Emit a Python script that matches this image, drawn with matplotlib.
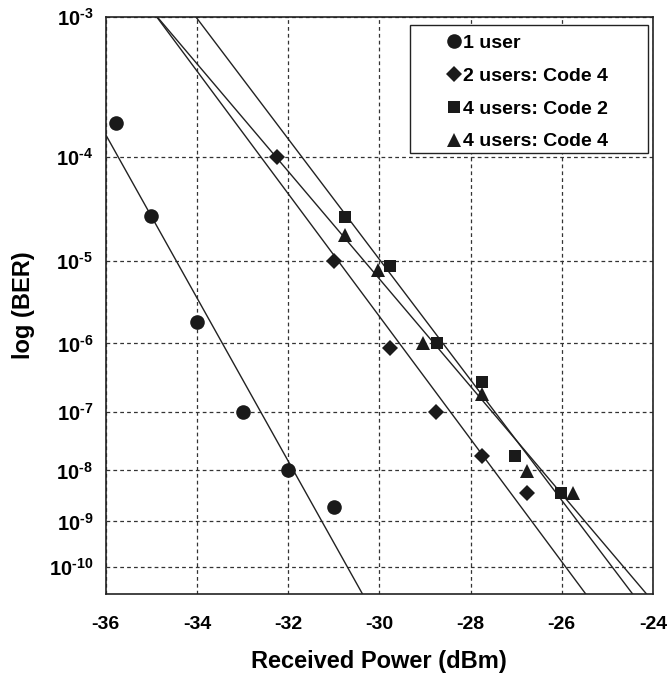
import numpy as np
import matplotlib
matplotlib.use("Agg")
import matplotlib.pyplot as plt
from matplotlib.lines import Line2D
from matplotlib.patches import Rectangle

plt.rcParams['font.family'] = ['Liberation Sans', 'DejaVu Sans']
plt.rcParams['font.weight'] = 'bold'
plt.rcParams['mathtext.fontset'] = 'custom'
plt.rcParams['mathtext.rm'] = 'Liberation Sans:bold'
plt.rcParams['mathtext.bf'] = 'Liberation Sans:bold'
plt.rcParams['mathtext.it'] = 'Liberation Sans:bold'

# ---- data ----
x_1user = [-35.77, -35.0, -34.0, -33.0, -32.0, -31.0]
ber_1user = [1.9e-4, 2.9e-5, 1.9e-6, 1.0e-7, 1.0e-8, 1.95e-9]

x_2u_c4 = [-32.25, -31.0, -29.76, -28.76, -27.75, -26.76]
ber_2u_c4 = [1.0e-4, 1.0e-5, 8.6e-7, 1.0e-7, 1.85e-8, 3.8e-9]

x_4u_c2 = [-30.75, -29.76, -28.74, -27.75, -27.02, -26.02]
ber_4u_c2 = [2.85e-5, 8.8e-6, 1.0e-6, 2.9e-7, 1.85e-8, 3.8e-9]

x_4u_c4 = [-30.75, -30.02, -29.04, -27.75, -26.76, -25.76]
ber_4u_c4 = [1.87e-5, 7.9e-6, 1.0e-6, 1.9e-7, 9.6e-9, 3.8e-9]

labels = ["1 user", "2 users: Code 4", "4 users: Code 2", "4 users: Code 4"]
xticks = [-36, -34, -32, -30, -28, -26, -24]
yexp = [3, 4, 5, 6, 7, 8, 9, 10]

# ---- BER scale: linear in log10(-log10(BER) - c) ----
C = 0.6


def fwd(y):
    y = np.asarray(y, dtype=float)
    with np.errstate(all='ignore'):
        n = -np.log10(np.clip(y, 1e-300, 0.2))
        return -np.log10(np.clip(n - C, 1e-9, None))


def inv(f):
    f = np.asarray(f, dtype=float)
    with np.errstate(all='ignore'):
        return 10.0 ** (-(10.0 ** (-f) + C))


W, H = 667, 674
fig = plt.figure(figsize=(W / 100, H / 100), dpi=100)
ax = fig.add_axes([105.7 / W, 1 - 594 / H, (653 - 105.7) / W, (594 - 16.7) / H])
ax.set_yscale('function', functions=(fwd, inv))

xlim = (-36, -24)
ylim = (2.2e-11, 1e-3)
ax.set_xlim(*xlim)
ax.set_ylim(*ylim)

series = [
    (x_1user, ber_1user, 'o', 10.5),
    (x_2u_c4, ber_2u_c4, 'D', 8.0),
    (x_4u_c2, ber_4u_c2, 's', 9.0),
    (x_4u_c4, ber_4u_c4, '^', 10.5),
]
mk_color = '#1a1a1a'
handles = []
for (xs, ys, m, ms), lab in zip(series, labels):
    xs = np.array(xs)
    fs = fwd(np.array(ys))
    k, b = np.polyfit(xs, fs, 1)
    ftop, fbot = fwd(ylim[1]), fwd(ylim[0])
    xa = max(xlim[0], (ftop - b) / k)
    xb = min(xlim[1], (fbot - b) / k)
    xl = np.array([xa, xb])
    ax.plot(xl, inv(k * xl + b), color='#222222', lw=1.0, zorder=3)
    ax.plot(xs, ys, linestyle='none', marker=m, ms=ms, color=mk_color,
            markeredgewidth=0, zorder=4)
    handles.append(Line2D([], [], linestyle='none', marker=m, ms=ms,
                          color=mk_color, markeredgewidth=0, label=lab))

ax.set_xticks(xticks)
ax.set_xticklabels([str(t) for t in xticks], fontsize=14, fontweight='bold')
ax.set_yticks([10.0 ** -e for e in yexp])
ax.set_yticklabels([r'$\mathbf{10^{\text{-}%d}}$' % e for e in yexp], fontsize=14.5)
ax.minorticks_off()
ax.tick_params(axis='both', length=0)
ax.tick_params(axis='x', pad=16)
ax.tick_params(axis='y', pad=9)

ax.grid(True, color='#333333', linestyle=(0, (3, 2.5)), linewidth=0.9)
ax.set_axisbelow(True)
for s in ax.spines.values():
    s.set_linewidth(1.2)
    s.set_color('#222222')

ax.set_xlabel('Received Power (dBm)', fontsize=17, fontweight='bold', labelpad=12)
ax.set_ylabel('log (BER)', fontsize=17, fontweight='bold', labelpad=10)

# legend box (wider than its content, content centred)
bx0, bx1 = (410 - 105.7) / 547.3, (648 - 105.7) / 547.3
by1, by0 = 1 - (25 - 16.7) / 577.3, 1 - (153 - 16.7) / 577.3
ax.add_patch(Rectangle((bx0, by0), bx1 - bx0, by1 - by0, transform=ax.transAxes,
                       facecolor='white', edgecolor='#222222', linewidth=1.0,
                       zorder=5))
leg = ax.legend(handles=handles, loc='center', fontsize=14,
                frameon=False, handlelength=0.8, handletextpad=0.1,
                borderpad=0.0, labelspacing=0.78,
                bbox_to_anchor=((bx0 + bx1) / 2 - 2 / 547.3,
                                (by0 + by1) / 2 - 3.5 / 577.3))
leg.set_zorder(6)
for t in leg.get_texts():
    t.set_fontweight('bold')

fig.savefig('out.png', dpi=100)
